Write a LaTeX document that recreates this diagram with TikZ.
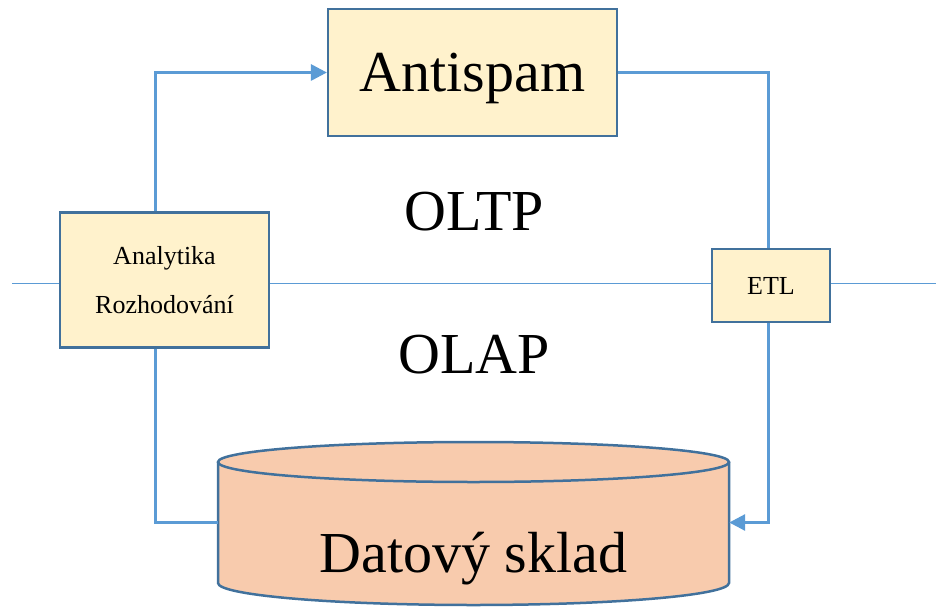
\documentclass[tikz,border=0pt]{standalone}
\usepackage{fontspec}
\setmainfont{Liberation Serif}
\usetikzlibrary{arrows.meta}
\definecolor{boxfill}{HTML}{FFF2CC}
\definecolor{boxedge}{HTML}{41719C}
\definecolor{flow}{HTML}{5B9BD5}
\definecolor{storefill}{HTML}{F8CBAD}
\tikzset{
  box/.style={draw=boxedge, fill=boxfill, line width=2.2pt, inner sep=0pt},
  flowline/.style={draw=flow, line width=3pt},
  flowarrow/.style={flowline, -{Triangle[length=16pt,width=16pt]}},
  divider/.style={draw=flow, line width=1.2pt},
  bigtext/.style={font=\fontsize{58}{60}\selectfont},
  smalltext/.style={font=\fontsize{26}{49}\selectfont, align=center},
}
\begin{document}
\begin{tikzpicture}[x=1pt, y=-1pt]
\useasboundingbox (0,0) rectangle (936,607);

% boxes
\node[box, minimum width=289pt, minimum height=127pt, bigtext, text depth=0pt] (anti) at (472.5,72.5) {Antispam};
\node[box, minimum width=209pt, minimum height=135pt, smalltext] (ana) at (164.5,280) {Analytika\\Rozhodování};
\node[box, minimum width=118pt, minimum height=73pt, smalltext] (etl) at (771,285.5) {ETL};

% data store (cylinder)
\node[minimum width=511pt, minimum height=121pt, inner sep=0pt] (sklad) at (473.5,522.5) {};
\fill[storefill] (218,462) -- (218,583) arc[start angle=180, end angle=0, x radius=255.5, y radius=22]
  -- (729,462) arc[start angle=0, end angle=-180, x radius=255.5, y radius=20] -- cycle;
\draw[boxedge, line width=2.5pt] (218,462) -- (218,583) arc[start angle=180, end angle=0, x radius=255.5, y radius=22] -- (729,462);
\draw[boxedge, line width=2.5pt] (473.5,462) ellipse[x radius=255.5, y radius=20];
\node[bigtext, text depth=0pt] (skladtext) at (473.5,552) {Datový sklad};

% layer labels
\node[bigtext] (oltp) at (474,212) {OLTP};
\node[bigtext] (olap) at (474,355) {OLAP};

% dividing line between layers
\coordinate (divl) at (12,283.5);
\coordinate (divr) at (936,283.5);
\draw[divider] (divl) -- (divl -| ana.west);
\draw[divider] (divl -| ana.east) -- (divl -| etl.west);
\draw[divider] (divr -| etl.east) -- (divr);

% flows
\draw[flowarrow] ([xshift=-9.5pt]ana.north) |- (anti.west);
\draw[flowline] (anti.east) -| ([xshift=-3pt]etl.north);
\draw[flowarrow] ([xshift=-3pt]etl.south) |- (sklad.east);
\draw[flowline] ([xshift=-9.5pt]ana.south) |- (sklad.west);
\end{tikzpicture}
\end{document}
